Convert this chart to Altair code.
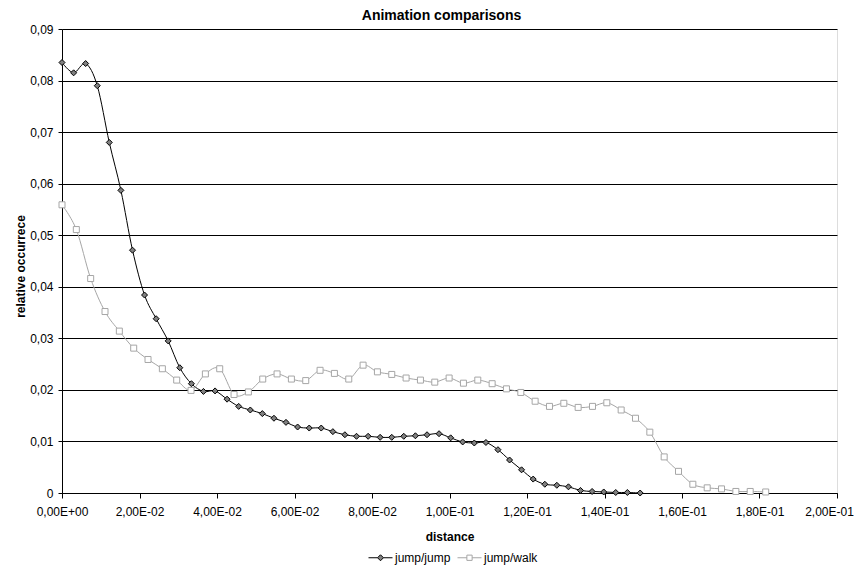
import altair as alt
import pandas as pd

series = ["jump/jump", "jump/walk"]

jj_x = [0.0000, 0.0030, 0.0061, 0.0091, 0.0122, 0.0152, 0.0182, 0.0213, 0.0243, 0.0274,
        0.0304, 0.0334, 0.0365, 0.0395, 0.0426, 0.0456, 0.0486, 0.0517, 0.0547, 0.0578,
        0.0608, 0.0638, 0.0669, 0.0699, 0.0730, 0.0760, 0.0790, 0.0821, 0.0851, 0.0882,
        0.0912, 0.0942, 0.0973, 0.1003, 0.1034, 0.1064, 0.1094, 0.1125, 0.1155, 0.1186,
        0.1216, 0.1246, 0.1277, 0.1307, 0.1338, 0.1368, 0.1398, 0.1429, 0.1459, 0.1492]
jj_y = [0.0835, 0.0815, 0.0833, 0.0790, 0.0680, 0.0587, 0.0471, 0.0384, 0.0338, 0.0295,
        0.0243, 0.0212, 0.0197, 0.0198, 0.0182, 0.0168, 0.0161, 0.0154, 0.0145, 0.0137,
        0.0128, 0.0126, 0.0126, 0.0119, 0.0113, 0.0110, 0.0110, 0.0108, 0.0108, 0.0110,
        0.0111, 0.0113, 0.0115, 0.0107, 0.0099, 0.0097, 0.0098, 0.0084, 0.0064, 0.0045,
        0.0027, 0.0017, 0.0015, 0.0012, 0.0005, 0.0003, 0.0002, 0.0001, 0.0001, 0.0000]

jw_x = [0.0000, 0.0037, 0.0074, 0.0111, 0.0148, 0.0185, 0.0222, 0.0259, 0.0296, 0.0333,
        0.0370, 0.0407, 0.0444, 0.0481, 0.0518, 0.0555, 0.0592, 0.0629, 0.0666, 0.0703,
        0.0740, 0.0777, 0.0814, 0.0851, 0.0888, 0.0925, 0.0962, 0.0999, 0.1036, 0.1073,
        0.1110, 0.1147, 0.1184, 0.1221, 0.1258, 0.1295, 0.1332, 0.1369, 0.1406, 0.1443,
        0.1480, 0.1517, 0.1554, 0.1591, 0.1628, 0.1665, 0.1702, 0.1739, 0.1776, 0.1816]
jw_y = [0.0559, 0.0511, 0.0416, 0.0352, 0.0314, 0.0281, 0.0259, 0.0241, 0.0219, 0.0199,
        0.0231, 0.0241, 0.0191, 0.0196, 0.0221, 0.0231, 0.0221, 0.0218, 0.0238, 0.0232,
        0.0221, 0.0248, 0.0235, 0.0230, 0.0223, 0.0219, 0.0215, 0.0223, 0.0213, 0.0219,
        0.0212, 0.0202, 0.0195, 0.0178, 0.0168, 0.0174, 0.0166, 0.0168, 0.0175, 0.0161,
        0.0145, 0.0118, 0.0070, 0.0042, 0.0017, 0.0010, 0.0008, 0.0003, 0.0003, 0.0002]

x_ticks = [0, 0.02, 0.04, 0.06, 0.08, 0.10, 0.12, 0.14, 0.16, 0.18, 0.20]
y_ticks = [0, 0.01, 0.02, 0.03, 0.04, 0.05, 0.06, 0.07, 0.08, 0.09]

df = pd.DataFrame({
    "series": [series[0]] * len(jj_x) + [series[1]] * len(jw_x),
    "distance": jj_x + jw_x,
    "occ": jj_y + jw_y,
})

FONT = "Liberation Sans"

x_enc = alt.X(
    "distance:Q",
    scale=alt.Scale(domain=[0, 0.2], nice=False, zero=False),
    axis=alt.Axis(
        values=x_ticks, title="distance", grid=False,
        labelExpr="replace(replace(replace(format(datum.value, '.2e'), '.', ','), 'e-', 'E-0'), 'e+', 'E+0')",
        labelFont=FONT, labelFontSize=12, labelColor="black", labelPadding=8,
        labelOffset={"condition": {"test": "datum.value >= 0.199", "value": -8}, "value": 0},
        tickSize=5, tickColor="black", domainColor="black",
        titleFont=FONT, titleFontSize=12, titleFontWeight="bold", titleColor="black",
        titleBaseline="alphabetic", titleY=47, labelFlush=False, labelOverlap=False,
    ),
)
y_enc = alt.Y(
    "occ:Q",
    scale=alt.Scale(domain=[0, 0.09], nice=False),
    axis=alt.Axis(
        values=y_ticks, title="relative occurrece", grid=True, gridColor="black",
        gridWidth=1,
        labelExpr="datum.value == 0 ? '0' : replace(format(datum.value, '.2f'), '.', ',')",
        labelFont=FONT, labelFontSize=12, labelColor="black", labelPadding=5,
        tickSize=4, tickColor="black", domainColor="black",
        titleFont=FONT, titleFontSize=12, titleFontWeight="bold", titleColor="black",
        titleAngle=270, titleAlign="center", titleBaseline="alphabetic",
        titleX=-38, titleY=237, labelFlush=False, labelOverlap=False,
    ),
)

line_colors = ["#000000", "#a6a6a6"]
fill_colors = ["#808080", "#ffffff"]

lines = alt.Chart(df).mark_line(interpolate="cardinal", strokeWidth=1).encode(
    x=x_enc, y=y_enc,
    color=alt.Color("series:N", scale=alt.Scale(domain=series, range=line_colors), legend=None),
    detail="series:N",
)

points = alt.Chart(df).mark_point(filled=False, size=36, strokeWidth=1, opacity=1).encode(
    x=x_enc, y=y_enc,
    shape=alt.Shape("series:N", scale=alt.Scale(domain=series, range=["diamond", "square"]), legend=None),
    fill=alt.Fill("series:N", scale=alt.Scale(domain=series, range=fill_colors), legend=None),
    stroke=alt.Stroke("series:N", scale=alt.Scale(domain=series, range=line_colors), legend=None),
)

# legend-only layer: symbols combine a line segment with the marker
jj_path = "M-1,0L-0.25,0M0.25,0L1,0M-0.25,0L0,-0.25L0.25,0L0,0.25Z"
jw_path = "M-1,0L-0.22,0M0.22,0L1,0M-0.22,-0.22L0.22,-0.22L0.22,0.22L-0.22,0.22Z"

legend = alt.Legend(
    title=None, orient="none", legendX=306, legendY=516, direction="horizontal",
    symbolSize=576, symbolStrokeWidth=1, labelFont=FONT, labelFontSize=12,
    labelColor="black", labelOffset=2, columnPadding=4, padding=0,
)

legend_layer = alt.Chart(df).transform_filter("datum.occ < 0").mark_point(
    filled=False, size=36, strokeWidth=1, opacity=1
).encode(
    x=x_enc, y=y_enc,
    shape=alt.Shape("series:N", scale=alt.Scale(domain=series, range=[jj_path, jw_path]), legend=legend),
    fill=alt.Fill("series:N", scale=alt.Scale(domain=series, range=fill_colors), legend=legend),
    stroke=alt.Stroke("series:N", scale=alt.Scale(domain=series, range=line_colors), legend=legend),
)

chart = alt.layer(lines, points, legend_layer).resolve_scale(
    shape="independent", fill="independent", stroke="independent"
).properties(
    width=775, height=464,
    autosize=alt.AutoSizeParams(type="none"),
    padding={"left": 54, "top": 21, "right": 17, "bottom": 72},
    title=alt.Title("Animation comparisons", font=FONT, fontSize=14, fontWeight="bold",
                    color="black", anchor="middle", offset=-11, dx=-8, baseline="alphabetic"),
).configure_view(stroke="#808080", strokeWidth=1).configure(background="white")

chart.save("out.html", embed_options={"renderer": "svg", "actions": False})
